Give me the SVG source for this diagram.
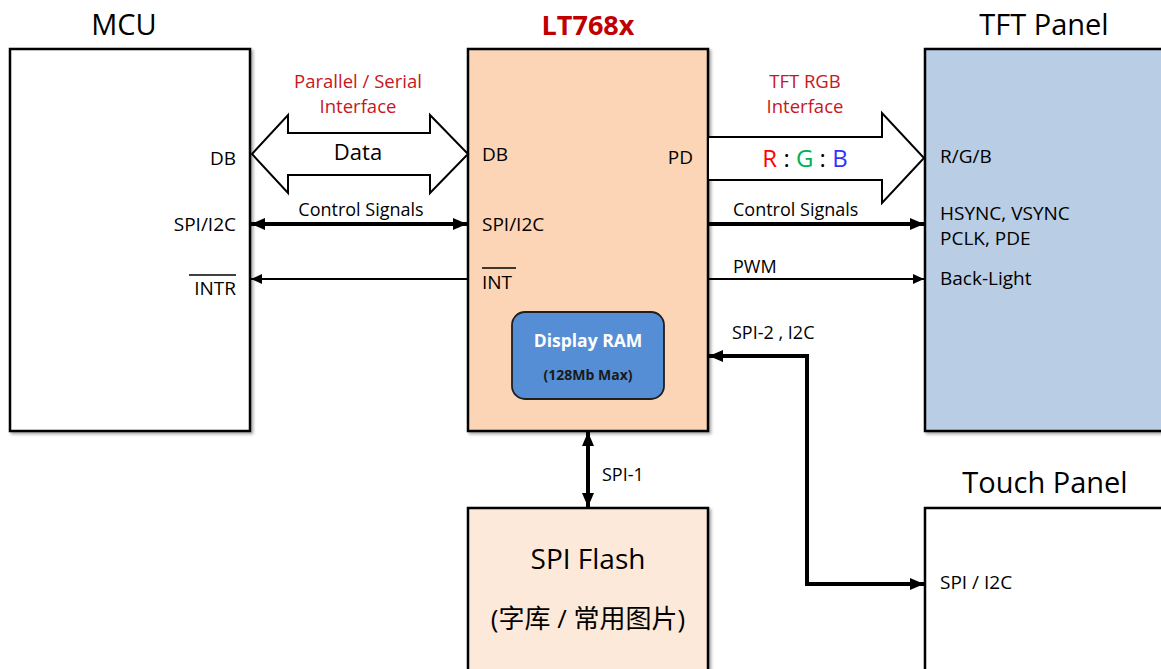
<svg xmlns="http://www.w3.org/2000/svg" width="1161" height="669" viewBox="0 0 1161 669">
<defs>
<filter id="sh" x="-5%" y="-5%" width="110%" height="110%">
<feDropShadow dx="2" dy="2" stdDeviation="1.5" flood-color="#000" flood-opacity="0.35"/>
</filter>
<marker id="ah" viewBox="0 0 14 12" refX="14" refY="6" markerWidth="14" markerHeight="12" markerUnits="userSpaceOnUse" orient="auto-start-reverse">
<path d="M0,0 L14,6 L0,12 Z" fill="#000"/>
</marker>
<marker id="ahs" viewBox="0 0 11 10" refX="11" refY="5" markerWidth="11" markerHeight="10" markerUnits="userSpaceOnUse" orient="auto-start-reverse">
<path d="M0,0 L11,5 L0,10 Z" fill="#000"/>
</marker>
</defs>
<style>
text{font-family:"Open Sans","Noto Sans","Noto Sans CJK SC",sans-serif;fill:#000}
.t{font-size:29px;text-anchor:middle}
.l{font-size:19px}
.r{text-anchor:end}
.s{font-size:18px}
.red{fill:#C8161D;font-size:18.5px;text-anchor:middle}
.box{stroke:#000;stroke-width:2.5;filter:url(#sh)}
.thick{stroke:#000;stroke-width:4;fill:none}
.thin{stroke:#000;stroke-width:1.8;fill:none}
</style>
<rect width="1161" height="669" fill="#fff"/>

<g id="mcu">
<text class="t" x="124" y="35">MCU</text>
<rect class="box" x="10" y="49" width="240" height="382" fill="#fff"/>
<text class="l r" x="236" y="165">DB</text>
<text class="l r" x="236" y="231">SPI/I2C</text>
<text class="l r" x="236" y="295">INTR</text>
<line x1="189" y1="275" x2="236" y2="275" stroke="#000" stroke-width="1.5"/>
</g>

<g id="lt768x">
<text x="588" y="35" style="font-size:27px;font-weight:bold;fill:#C00000;text-anchor:middle">LT768x</text>
<rect class="box" x="468" y="49" width="240" height="382" fill="#FBD5B5"/>
<text class="l" x="482" y="161">DB</text>
<text class="l" x="482" y="231">SPI/I2C</text>
<text class="l" x="482" y="289">INT</text>
<line x1="482" y1="268" x2="516" y2="268" stroke="#000" stroke-width="1.5"/>
<text class="l r" x="693" y="164">PD</text>
</g>

<g id="display-ram">
<rect x="512" y="312" width="152" height="87" rx="13" fill="#558ED5" stroke="#1F1F1F" stroke-width="1.8"/>
<text x="588" y="347" style="font-size:17.5px;font-weight:bold;fill:#fff;text-anchor:middle">Display RAM</text>
<text x="588" y="380" style="font-size:14px;font-weight:bold;fill:#1a1a1a;text-anchor:middle">(128Mb Max)</text>
</g>

<g id="tft-panel">
<text class="t" x="1044" y="35">TFT Panel</text>
<rect class="box" x="925" y="49" width="245" height="382" fill="#B9CDE5"/>
<text class="l" x="940" y="163">R/G/B</text>
<text class="l" x="940" y="220">HSYNC, VSYNC</text>
<text class="l" x="940" y="245">PCLK, PDE</text>
<text class="l" x="940" y="285">Back-Light</text>
</g>

<g id="spi-flash">
<rect class="box" x="468" y="508" width="240" height="175" fill="#FDE9D9"/>
<text x="588" y="569" style="font-size:28px;text-anchor:middle">SPI Flash</text>
<text x="588" y="628" style="font-size:26px;text-anchor:middle">(字库 / 常用图片)</text>
</g>

<g id="touch-panel">
<text class="t" x="1045" y="493">Touch Panel</text>
<rect class="box" x="925" y="508" width="245" height="175" fill="#fff"/>
<text class="l" x="940" y="589">SPI / I2C</text>
</g>

<g id="connectors">
<polygon points="252,154 288,115 288,133 430,133 430,115 468,154 430,193 430,175 288,175 288,193" fill="#fff" stroke="#000" stroke-width="2"/>
<text class="red" x="358" y="88">Parallel / Serial</text>
<text class="red" x="358" y="113">Interface</text>
<text x="358" y="160" style="font-size:22px;text-anchor:middle">Data</text>

<polygon points="708,137 882,137 882,113 924,158 882,203 882,180 708,180" fill="#fff" stroke="#000" stroke-width="2"/>
<text class="red" x="805" y="88">TFT RGB</text>
<text class="red" x="805" y="113">Interface</text>
<text x="805" y="167" style="font-size:24px;text-anchor:middle"><tspan style="fill:#FF0000">R</tspan> : <tspan style="fill:#00B050">G</tspan> : <tspan style="fill:#3333FF">B</tspan></text>

<line class="thick" x1="251" y1="224" x2="467" y2="224" marker-start="url(#ah)" marker-end="url(#ah)"/>
<text class="s" x="361" y="216" text-anchor="middle">Control Signals</text>

<line class="thin" x1="468" y1="279" x2="251" y2="279" marker-end="url(#ahs)"/>

<line class="thick" x1="708" y1="224" x2="924" y2="224" marker-end="url(#ah)"/>
<text class="s" x="733" y="216">Control Signals</text>

<line class="thin" x1="708" y1="279" x2="924" y2="279" marker-end="url(#ahs)"/>
<text class="s" x="733" y="273">PWM</text>

<polyline class="thick" points="924,584 807,584 807,356 709,356" marker-start="url(#ah)" marker-end="url(#ah)"/>
<text class="s" x="732" y="339">SPI-2 , I2C</text>

<line class="thick" x1="588" y1="432" x2="588" y2="507" marker-start="url(#ah)" marker-end="url(#ah)"/>
<text class="s" x="602" y="481">SPI-1</text>
</g>
</svg>
